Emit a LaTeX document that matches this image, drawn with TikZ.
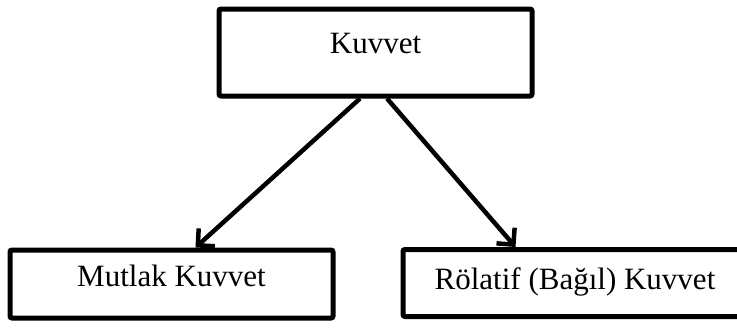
\documentclass[tikz,border=0pt]{standalone}
\usepackage{fontspec}
\setmainfont{Liberation Serif}
\usetikzlibrary{arrows.meta,calc,shadows}
\begin{document}
\begin{tikzpicture}[x=1pt,y=-1pt,
  box/.style={draw=black, line width=5pt, rounded corners=2pt, fill=white, inner sep=0pt,
    font=\fontsize{31}{36}\selectfont,
    drop shadow={opacity=0.2, shadow xshift=1pt, shadow yshift=-2pt}},
  conn/.style={line width=4.5pt, -{Straight Barb[length=12pt,width=24pt]}}]
\clip (0,0) rectangle (737,327);
\fill[white] (0,0) rectangle (737,327);
\node[box, minimum width=313pt, text height=44pt, text depth=43pt] (top) at (375.5,52.5) {Kuvvet};
\node[box, minimum width=323pt, text height=36pt, text depth=32pt] (mut) at (171.5,284) {Mutlak Kuvvet};
\node[box, minimum width=344pt, text height=40pt, text depth=27pt] (rol) at (575,283) {Rölatif (Bağıl) Kuvvet};
\draw[conn] ($(top.south)+(-15.5,0)$) -- ($(mut.north west)+(188,0)$);
\draw[conn] ($(top.south)+(11.5,0)$) -- ($(rol.north west)+(115,0)$);
\end{tikzpicture}
\end{document}
